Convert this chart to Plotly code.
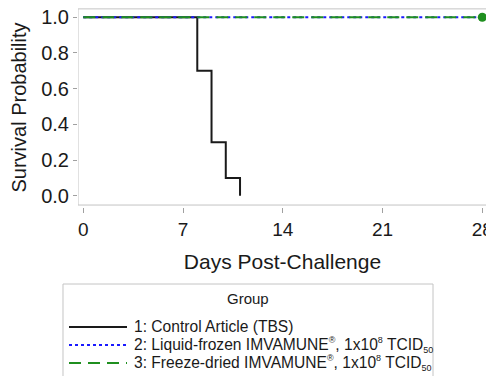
import plotly.graph_objects as go

# Data
ctrl_days = [0, 8, 9, 10, 11]
ctrl_surv = [1.0, 0.7, 0.3, 0.1, 0.0]
lf_days = [0, 28]
lf_surv = [1.0, 1.0]
fd_days = [0, 28]
fd_surv = [1.0, 1.0]
censor_days = [28]
censor_surv = [1.0]
x_ticks = [0, 7, 14, 21, 28]
y_ticks = [0.0, 0.2, 0.4, 0.6, 0.8, 1.0]
legend_title = "Group"
SUP = '<sup><span style="font-size:9px">{}</span></sup>'
SUB = '<sub><span style="font-size:9px">{}</span></sub>'
names = [
    "1: Control Article (TBS)",
    "2: Liquid-frozen IMVAMUNE" + SUP.format("®") + ", 1x10" + SUP.format("8") + " TCID" + SUB.format("50"),
    "3: Freeze-dried IMVAMUNE" + SUP.format("®") + ", 1x10" + SUP.format("8") + " TCID" + SUB.format("50"),
]
colors = ["#1a1a1a", "#1a1aff", "#1f8f1f"]
dashes = ["solid", "dot", "12px,7px"]

FONT = "Liberation Sans, Arial, sans-serif"
XR = [-0.37, 28.33]
YR = [-0.063, 1.052]

fig = go.Figure()
fig.add_trace(go.Scatter(x=ctrl_days, y=ctrl_surv, mode="lines", line_shape="hv",
                         line=dict(color=colors[0], width=2, dash=dashes[0]), name=names[0]))
fig.add_trace(go.Scatter(x=lf_days, y=lf_surv, mode="lines",
                         line=dict(color=colors[1], width=2, dash=dashes[1]), name=names[1]))
fig.add_trace(go.Scatter(x=fd_days, y=fd_surv, mode="lines",
                         line=dict(color=colors[2], width=2, dash=dashes[2]), name=names[2]))
fig.add_trace(go.Scatter(x=censor_days, y=censor_surv, mode="markers",
                         marker=dict(color=colors[2], size=9), showlegend=False,
                         cliponaxis=False))

# plot frame
fig.add_shape(type="rect", xref="x", yref="y", x0=XR[0], x1=XR[1] - 0.03, y0=-0.052, y1=1.047,
              line=dict(color="#c4c4c4", width=1), layer="below")

# legend box (drawn in paper coordinates)
fig.add_shape(type="rect", xref="paper", yref="paper", x0=-0.0367, x1=0.868, y0=-0.95, y1=-0.387,
              line=dict(color="#c4c4c4", width=1), fillcolor="white")
fig.add_annotation(xref="paper", yref="paper", x=0.4156, y=-0.4623, text=legend_title,
                   showarrow=False, xanchor="center", yanchor="middle",
                   font=dict(size=15, family=FONT, color="#1a1a1a"))
row_y = [-0.603, -0.6935, -0.784]
for name, col, dsh, ry in zip(names, colors, dashes, row_y):
    fig.add_shape(type="line", xref="paper", yref="paper", x0=-0.022, x1=0.1198, y0=ry, y1=ry,
                  line=dict(color=col, width=2, dash=dsh))
    fig.add_annotation(xref="paper", yref="paper", x=0.132, y=ry, text=name,
                       showarrow=False, xanchor="left", yanchor="middle",
                       font=dict(size=15.6, family=FONT, color="#1a1a1a"))

fig.update_layout(
    width=486, height=368,
    margin=dict(l=70, r=7, t=0, b=169, autoexpand=False),
    paper_bgcolor="white", plot_bgcolor="white",
    font=dict(family=FONT, color="#1a1a1a"),
    showlegend=False,
    xaxis=dict(range=XR, tickvals=x_ticks, ticktext=[str(v) for v in x_ticks],
               showgrid=False, zeroline=False, showline=False,
               ticks="outside", ticklen=5, tickcolor="#a0a0a0",
               tickfont=dict(size=19), ticklabeloverflow="allow",
               title=dict(text="Days Post-Challenge", font=dict(size=21), standoff=15)),
    yaxis=dict(range=YR, tickvals=y_ticks, ticktext=[f"{v:.1f}" for v in y_ticks],
               showgrid=False, zeroline=False, showline=False,
               ticks="outside", ticklen=4, tickcolor="#a0a0a0",
               tickfont=dict(size=20), ticklabeloverflow="allow",
               title=dict(text="Survival Probability", font=dict(size=20), standoff=12)),
)

fig.write_html("out.html")
